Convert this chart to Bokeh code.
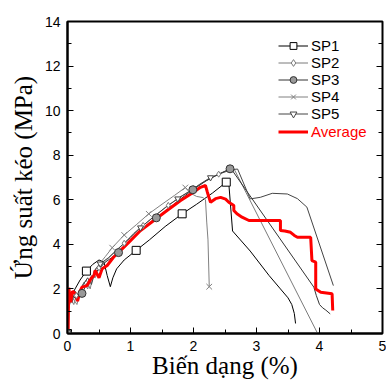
from bokeh.plotting import figure
from bokeh.models import (SingleIntervalTicker, LinearAxis, Legend, LegendItem,
                          CustomJSTickFormatter)
from bokeh.embed import file_html
from bokeh.resources import INLINE

# ---------------- data ----------------
sp1_x = [0, 0.01, 0.05, 0.12, 0.2, 0.3, 0.4, 0.5, 0.58, 0.63, 0.68, 0.72, 0.78, 0.9, 1.09,
         1.3, 1.55, 1.82, 2.05, 2.3, 2.52, 2.56, 2.62, 2.9, 3.2, 3.38, 3.5, 3.56, 3.6, 3.62]
sp1_y = [0, 1.2, 1.6, 2.0, 2.4, 2.8, 3.1, 3.3, 3.2, 2.6, 2.1, 2.5, 2.9, 3.3, 3.73,
         4.2, 4.8, 5.37, 5.8, 6.3, 6.79, 6.75, 4.6, 3.7, 2.6, 2.0, 1.6, 1.3, 0.9, 0.45]
sp1_mx = [0, 0.3, 1.09, 1.82, 2.52]
sp1_my = [0, 2.8, 3.73, 5.37, 6.79]

sp2_x = [0, 0.02, 0.06, 0.1, 0.14, 0.2, 0.26, 0.32, 0.38, 0.44, 0.5, 0.6, 0.75, 0.9, 1.05,
         1.2, 1.4, 1.6, 1.8, 2.0, 2.2, 2.4, 2.6, 2.65, 3.96]
sp2_y = [0, 1.3, 1.5, 1.3, 1.7, 1.9, 2.3, 2.0, 2.6, 2.5, 2.95, 3.25, 3.65, 4.05, 4.5,
         4.85, 5.3, 5.75, 6.15, 6.5, 6.85, 7.15, 7.4, 7.35, 0.06]
sp2_mx = [0.14, 0.5, 0.9, 1.2, 1.6, 2.0, 2.4]
sp2_my = [1.7, 2.95, 4.05, 4.85, 5.75, 6.5, 7.15]

sp3_x = [0, 0.02, 0.08, 0.15, 0.23, 0.3, 0.4, 0.5, 0.6, 0.7, 0.81, 1.0, 1.2, 1.41, 1.6,
         1.8, 1.99, 2.2, 2.4, 2.58, 2.62, 3.91, 3.95, 4.0, 4.05, 4.1, 4.17]
sp3_y = [0, 1.4, 1.7, 1.5, 1.8, 2.2, 2.6, 2.9, 3.2, 3.4, 3.63, 4.15, 4.7, 5.19, 5.6,
         6.05, 6.45, 6.85, 7.15, 7.39, 7.3, 2.08, 1.7, 1.3, 1.15, 1.05, 0.88]
sp3_mx = [0, 0.23, 0.81, 1.41, 1.99, 2.58]
sp3_my = [0, 1.8, 3.63, 5.19, 6.45, 7.39]

sp4_x = [0, 0.02, 0.08, 0.15, 0.22, 0.3, 0.36, 0.42, 0.5, 0.6, 0.71, 0.9, 1.1, 1.29, 1.5,
         1.7, 1.87, 1.95, 2.05, 2.15, 2.19, 2.21, 2.23, 2.25]
sp4_y = [0, 1.2, 1.6, 1.3, 2.1, 2.4, 2.0, 2.8, 3.1, 3.45, 3.85, 4.42, 4.9, 5.37, 5.8,
         6.2, 6.55, 6.3, 6.15, 6.1, 6.0, 5.0, 4.2, 2.1]
sp4_mx = [0.71, 0.9, 1.29, 1.87, 2.25]
sp4_my = [3.85, 4.42, 5.37, 6.55, 2.1]

sp5_x = [0, 0.02, 0.07, 0.12, 0.18, 0.25, 0.32, 0.38, 0.45, 0.52, 0.65, 0.8, 1.0, 1.16, 1.35,
         1.55, 1.75, 1.95, 2.1, 2.27, 2.45, 2.6, 2.7, 2.9, 3.06, 3.25, 3.49, 3.65, 3.8, 4.22]
sp5_y = [0, 1.6, 1.4, 1.9, 1.6, 2.2, 2.5, 2.2, 2.9, 3.13, 3.4, 3.8, 4.3, 4.75, 5.2,
         5.65, 6.05, 6.4, 6.7, 7.0, 7.2, 7.35, 7.38, 6.04, 6.11, 6.29, 6.26, 6.05, 5.67, 2.15]
sp5_mx = [0.52, 1.16, 1.75, 2.27]
sp5_my = [3.13, 4.75, 6.05, 7.0]

avg_x = [0, 0.01, 0.02, 0.05, 0.08, 0.13, 0.16, 0.2, 0.23, 0.31, 0.37, 0.42, 0.44, 0.5, 0.55,
         0.63, 0.73, 0.84, 1.0, 1.16, 1.37, 1.58, 1.79, 2.0, 2.11, 2.19, 2.22, 2.27, 2.35, 2.43,
         2.51, 2.56, 2.64, 2.64, 2.69, 2.77, 2.88, 3.38, 3.38, 3.45, 3.54, 3.6, 3.65, 3.86,
         3.88, 3.94, 3.94, 4.02, 4.2, 4.21]
avg_y = [0, 0, 2.05, 1.4, 1.9, 1.78, 1.45, 1.9, 2.08, 2.15, 2.45, 2.6, 2.83, 2.5, 2.9,
         3.05, 3.42, 3.72, 4.17, 4.62, 5.07, 5.52, 5.96, 6.34, 6.56, 6.64, 6.34, 5.89, 6.05, 6.11,
         6.03, 5.89, 5.74, 5.52, 5.37, 5.22, 5.07, 5.07, 4.62, 4.6, 4.54, 4.4, 4.32, 4.32,
         3.27, 3.2, 2.0, 1.85, 1.78, 1.03]

series_names = ["SP1", "SP2", "SP3", "SP4", "SP5"]
x_label = "Biến dạng (%)"
y_label = "Ứng suất kéo (MPa)"

# ---------------- figure ----------------
p = figure(width=386, height=383, x_range=(0, 5), y_range=(0, 14),
           output_backend="svg", toolbar_location=None,
           min_border_left=67, min_border_right=4, min_border_top=21, min_border_bottom=50)
p.background_fill_color = "white"
p.border_fill_color = "white"
p.grid.visible = False
p.outline_line_color = "black"
p.outline_line_width = 2

sans = "Liberation Sans"
serif = "Liberation Serif"

p.xaxis.ticker = SingleIntervalTicker(interval=1, num_minor_ticks=2)
p.yaxis.ticker = SingleIntervalTicker(interval=2, num_minor_ticks=2)
for ax in (p.xaxis, p.yaxis):
    ax.axis_line_color = "black"
    ax.axis_line_width = 2
    ax.major_tick_in = 6
    ax.major_tick_out = 0
    ax.minor_tick_in = 4
    ax.minor_tick_out = 0
    ax.major_tick_line_color = "black"
    ax.minor_tick_line_color = "black"
    ax.major_label_text_font = sans
    ax.major_label_text_font_size = "14px"
    ax.major_label_text_color = "black"
    ax.major_label_standoff = 7
    ax.axis_label_text_font = serif
    ax.axis_label_text_font_size = "25px"
    ax.axis_label_text_font_style = "normal"
    ax.axis_label_text_color = "black"
p.xaxis.axis_label = x_label
p.yaxis.axis_label = y_label
p.xaxis.axis_label_standoff = -2
p.yaxis.axis_label_standoff = 5

right = LinearAxis(ticker=SingleIntervalTicker(interval=2, num_minor_ticks=2),
                   formatter=CustomJSTickFormatter(code="return ''"))
right.axis_line_color = None
right.major_tick_in = 6
right.major_tick_out = 0
right.minor_tick_in = 4
right.minor_tick_out = 0
right.major_label_standoff = 0
p.add_layout(right, "right")

# ---------------- glyphs ----------------
r1l = p.line(sp1_x, sp1_y, line_color="black", line_width=1)
r2l = p.line(sp2_x, sp2_y, line_color="#7a7a7a", line_width=1)
r3l = p.line(sp3_x, sp3_y, line_color="#333333", line_width=1)
r4l = p.line(sp4_x, sp4_y, line_color="#808080", line_width=1)
r5l = p.line(sp5_x, sp5_y, line_color="#444444", line_width=1)
ra = p.line(avg_x, avg_y, line_color="#ff0000", line_width=3)

r1m = p.scatter(sp1_mx, sp1_my, marker="square", size=8, fill_color="white",
                line_color="black", line_width=1)
r2m = p.scatter(sp2_mx, sp2_my, marker="diamond", size=6, fill_color="white",
                line_color="#7a7a7a", line_width=1)
r3m = p.scatter(sp3_mx, sp3_my, marker="circle", size=8, fill_color="#999999",
                line_color="#333333", line_width=1)
r4m = p.scatter(sp4_mx, sp4_my, marker="x", size=8, line_color="#808080", line_width=1)
r5m = p.scatter(sp5_mx, sp5_my, marker="inverted_triangle", size=6, fill_color="white",
                line_color="#444444", line_width=1)

# ---------------- legends ----------------
pairs = [(r1l, r1m), (r2l, r2m), (r3l, r3m), (r4l, r4m), (r5l, r5m)]
items = [LegendItem(label=n, renderers=[a, b]) for n, (a, b) in zip(series_names, pairs)]
leg1 = Legend(items=items, location=(211, 211))
leg2 = Legend(items=[LegendItem(label="Average", renderers=[ra])], location=(211, 193))
for lg, col in ((leg1, "black"), (leg2, "#ff0000")):
    lg.label_text_font = sans
    lg.label_text_font_size = "15px"
    lg.label_text_color = col
    lg.glyph_width = 30
    lg.glyph_height = 17
    lg.label_height = 17
    lg.label_standoff = 3
    lg.spacing = 0
    lg.padding = 0
    lg.margin = 0
    lg.border_line_color = None
    lg.background_fill_alpha = 0
    p.add_layout(lg, "center")

open("out.html", "w").write(file_html(p, INLINE))
